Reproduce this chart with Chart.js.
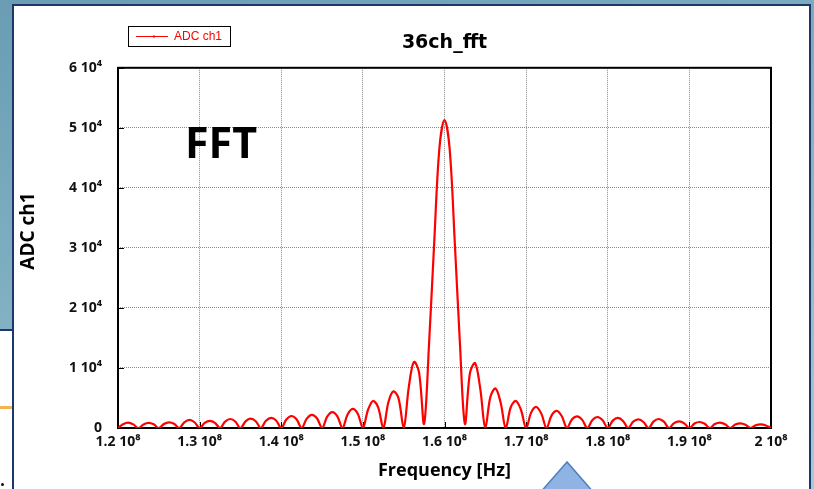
<!DOCTYPE html>
<html>
<head>
<meta charset="utf-8">
<script src="https://cdn.jsdelivr.net/npm/chart.js@4/dist/chart.umd.min.js"></script>
<style>
  html, body { margin: 0; padding: 0; }
  body {
    width: 814px; height: 489px; overflow: hidden; position: relative;
    background: linear-gradient(165deg, #6a9db3 0%, #86b5c6 55%, #a3cbd8 100%);
  }
  #side-sheet {
    position: absolute; left: 0; top: 329px; width: 14px; height: 170px;
    background: #fff; border-top: 2px solid #1c386a;
  }
  #side-rule { position: absolute; left: 0; top: 406px; width: 12px; height: 3px; background: #f2b452; }
  #side-dot { position: absolute; left: 1px; top: 483px; width: 3px; height: 3px; border-radius: 2px; background: #111; }
  #panel {
    position: absolute; left: 12px; top: 4px; width: 799px; height: 500px;
    box-sizing: border-box; background: #fff; border: 2px solid #1c386a;
  }
  #fft { position: absolute; left: 0; top: 0; }
  #arrow { position: absolute; left: 0; top: 0; }
</style>
</head>
<body>
<div id="side-sheet"></div>
<div id="side-rule"></div>
<div id="side-dot"></div>
<div id="panel"></div>
<canvas id="fft" width="814" height="489"></canvas>
<svg id="arrow" width="814" height="489"><polygon points="567,462 539,494 595,494" fill="#8fb4e3" stroke="#4f7fbf" stroke-width="1.5"/></svg>
<script>
// spectrum of channel 1, frequency in MHz
const freqMHz = [
  120, 120.625, 121.25, 121.875,
  122.5, 123.125, 123.75, 124.375,
  125, 125.625, 126.25, 126.875,
  127.5, 128.125, 128.75, 129.375,
  130, 130.625, 131.25, 131.875,
  132.5, 133.125, 133.75, 134.375,
  135, 135.625, 136.25, 136.875,
  137.5, 138.125, 138.75, 139.375,
  140, 140.625, 141.25, 141.875,
  142.5, 143.125, 143.75, 144.375,
  145, 145.625, 146.25, 146.875,
  147.5, 148.125, 148.75, 149.375,
  150, 150.625, 151.25, 151.875,
  152.5, 153.125, 153.75, 154.375,
  155, 155.625, 156.25, 156.875,
  157.5, 158.125, 158.75, 159.375,
  160, 160.625, 161.25, 161.875,
  162.5, 163.125, 163.75, 164.375,
  165, 165.625, 166.25, 166.875,
  167.5, 168.125, 168.75, 169.375,
  170, 170.625, 171.25, 171.875,
  172.5, 173.125, 173.75, 174.375,
  175, 175.625, 176.25, 176.875,
  177.5, 178.125, 178.75, 179.375,
  180, 180.625, 181.25, 181.875,
  182.5, 183.125, 183.75, 184.375,
  185, 185.625, 186.25, 186.875,
  187.5, 188.125, 188.75, 189.375,
  190, 190.625, 191.25, 191.875,
  192.5, 193.125, 193.75, 194.375,
  195, 195.625, 196.25, 196.875,
  197.5, 198.125, 198.75, 199.375,
  200
];

const adcCh1 = [
  0, 620, 880, 600,
  0, 600, 850, 610,
  0, 680, 950, 700,
  0, 940, 1350, 960,
  0, 850, 1200, 870,
  0, 1060, 1500, 1080,
  0, 1100, 1550, 1120,
  0, 1200, 1700, 1240,
  0, 1420, 2000, 1460,
  0, 1560, 2200, 1620,
  0, 1880, 2650, 1950,
  0, 2250, 3200, 2380,
  0, 3000, 4500, 3450,
  0, 4300, 6100, 4900,
  0, 6800, 11000, 9300,
  700, 14500, 31200, 46600,
  51300, 46600, 31200, 14500,
  700, 9200, 10800, 6600,
  0, 5200, 6570, 4250,
  0, 3500, 4500, 3000,
  0, 2600, 3500, 2350,
  0, 2100, 2850, 1950,
  0, 1450, 1950, 1350,
  0, 1350, 1830, 1280,
  0, 1230, 1670, 1180,
  0, 1050, 1440, 1000,
  0, 1100, 1500, 1050,
  0, 820, 1110, 780,
  0, 740, 1000, 700,
  0, 660, 890, 630,
  0, 580, 780, 550,
  0, 450, 610, 430,
  0
];

const xTickLabels = ['1.2 10⁸', '1.3 10⁸', '1.4 10⁸', '1.5 10⁸', '1.6 10⁸', '1.7 10⁸', '1.8 10⁸', '1.9 10⁸', '2 10⁸'];
const yTickLabels = ['0', '1 10⁴', '2 10⁴', '3 10⁴', '4 10⁴', '5 10⁴', '6 10⁴'];

const tickFont = { family: "'Open Sans', sans-serif", size: 14, weight: 'bold' };

// frame, inner tick marks, y title, boxed legend and the FFT note
const framePlugin = {
  id: 'frame',
  beforeDatasetsDraw(chart) {
    const { ctx, chartArea: a, scales: { x, y } } = chart;
    ctx.save();
    ctx.strokeStyle = '#000';
    ctx.lineWidth = 1;
    ctx.beginPath();
    y.ticks.forEach(t => {
      const py = Math.round(y.getPixelForValue(t.value)) + 0.5;
      ctx.moveTo(a.left, py); ctx.lineTo(a.left + 6, py);
    });
    x.ticks.forEach(t => {
      const px = Math.round(x.getPixelForValue(t.value)) + 0.5;
      ctx.moveTo(px, a.bottom); ctx.lineTo(px, a.bottom - 6);
    });
    ctx.stroke();
    ctx.lineWidth = 2;
    ctx.strokeRect(a.left, a.top, a.right - a.left, a.bottom - a.top);
    ctx.restore();
  },
  afterDraw(chart) {
    const { ctx } = chart;
    const ds = chart.data.datasets[0];
    ctx.save();

    ctx.translate(29, 231);
    ctx.rotate(-Math.PI / 2);
    ctx.fillStyle = '#000';
    ctx.font = "bold 19px 'Open Sans', sans-serif";
    ctx.textAlign = 'center';
    ctx.textBaseline = 'middle';
    ctx.fillText('ADC ch1', 0, 0);
    ctx.setTransform(1, 0, 0, 1, 0, 0);

    ctx.fillStyle = '#fff';
    ctx.fillRect(128, 26, 102, 20);
    ctx.strokeStyle = '#000';
    ctx.lineWidth = 1;
    ctx.strokeRect(128.5, 26.5, 102, 20);
    ctx.strokeStyle = ds.borderColor;
    ctx.beginPath();
    ctx.moveTo(136, 36.5); ctx.lineTo(168, 36.5);
    ctx.stroke();
    ctx.fillStyle = ds.borderColor;
    ctx.fillRect(153, 35.5, 2, 2);
    ctx.font = "12px 'Liberation Sans', sans-serif";
    ctx.textAlign = 'left';
    ctx.textBaseline = 'middle';
    ctx.fillText(ds.label, 174, 36.5);

    ctx.fillStyle = '#000';
    ctx.font = "bold 43px 'Open Sans', sans-serif";
    ctx.textBaseline = 'alphabetic';
    ctx.fillText('FFT', 185, 158);
    ctx.restore();
  }
};

new Chart(document.getElementById('fft'), {
  type: 'line',
  data: {
    datasets: [{
      label: 'ADC ch1',
      data: freqMHz.map((f, i) => ({ x: f, y: adcCh1[i] })),
      borderColor: '#ff0000',
      borderWidth: 2.2,
      pointRadius: 0,
      tension: 0.35,
      fill: false
    }]
  },
  options: {
    responsive: false,
    animation: false,
    layout: { padding: { left: 0, right: 43, top: 0, bottom: 0 } },
    plugins: {
      legend: { display: false },
      tooltip: { enabled: false },
      title: {
        display: true,
        text: '36ch_fft',
        fullSize: false,
        color: '#000',
        font: { family: "'DejaVu Sans', sans-serif", size: 19, weight: 'bold', lineHeight: 1.2 },
        padding: { top: 32, bottom: 13 }
      }
    },
    scales: {
      x: {
        type: 'linear',
        min: 120, max: 200,
        afterFit: s => { s.height = 61; },
        border: { display: false, dash: [1, 1] },
        grid: { color: '#8a8a8a', drawTicks: false },
        ticks: {
          stepSize: 10, padding: 6, color: '#111', font: tickFont,
          maxRotation: 0, autoSkip: false,
          callback: (v, i) => xTickLabels[i]
        },
        title: {
          display: true, text: 'Frequency [Hz]', color: '#000',
          font: { family: "'Open Sans', sans-serif", size: 18, weight: 'bold', lineHeight: 1 },
          padding: { top: 0, bottom: 9 }
        }
      },
      y: {
        min: 0, max: 60000,
        afterFit: s => { s.width = 118; },
        border: { display: false, dash: [1, 1] },
        grid: { color: '#8a8a8a', drawTicks: false },
        ticks: {
          stepSize: 10000, padding: 16, color: '#111', font: tickFont,
          callback: (v, i) => yTickLabels[i]
        }
      }
    }
  },
  plugins: [framePlugin]
});
</script>
</body>
</html>
